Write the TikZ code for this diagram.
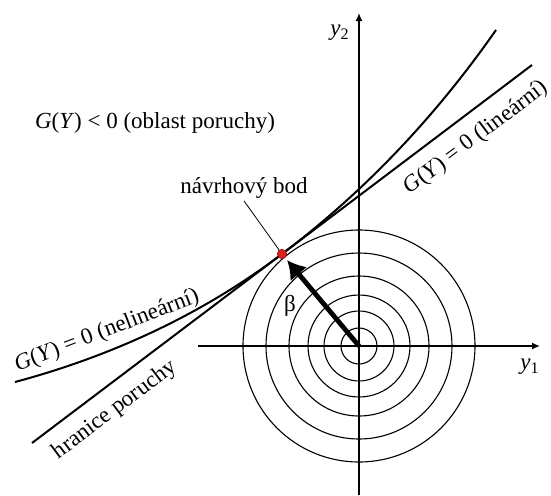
\documentclass[tikz,border=0pt]{standalone}
\usepackage{fontspec}
\setmainfont{Liberation Serif}
\usetikzlibrary{arrows.meta}
\definecolor{bodred}{RGB}{222,32,32}
\tikzset{
  axis/.style    ={line width=0.7pt,-{Latex[length=4pt,width=3.5pt]}},
  ring/.style    ={line width=0.55pt},
  mez/.style     ={line width=1pt},
  pointer/.style ={line width=0.4pt},
  betaarr/.style ={line width=2.4pt,-{Latex[length=9pt,width=11pt]},shorten >=1.5pt},
  bodnode/.style ={circle,draw=bodred!70!black,line width=0.3pt,fill=bodred,
                   minimum size=4.6pt,inner sep=0pt},
  lbl/.style     ={inner sep=1pt,font=\fontsize{11.5}{13}\selectfont},
}

\begin{document}
\begin{tikzpicture}[x=0.5pt,y=0.5pt]
\useasboundingbox (-359,-149) rectangle (192,346);

% --- concentric circles ------------------------------------------------------
\coordinate (O) at (0,0);
\foreach \r in {18,35,51,70,93,116}
  \draw[ring] (O) circle (\r);

% --- axes --------------------------------------------------------------------
\coordinate (x0) at (-161,0);
\coordinate (x1) at (181,0);
\coordinate (v0) at (0,-149);
\coordinate (v1) at (0,333);
\draw[axis] (x0) -- (x1);
\draw[axis] (v0) -- (v1);
\node[lbl] (ya) at (171,-21) {\textit{y}\textsubscript{1}};
\node[lbl] (yb) at (-19,313) {\textit{y}\textsubscript{2}};

% --- limit states ------------------------------------------------------------
\coordinate (l0) at (-327,-97);
\coordinate (l1) at (173,281);
\coordinate (c0) at (-344,-36);
\coordinate (c1) at (137,316);
\node[bodnode] (bod) at (-77,92) {};
\draw[mez] (l0) -- (l1);
\draw[mez] (c0) .. controls (-243.1,-8.9) and (-154.1,33.7) .. (bod.center)
                .. controls (4.4,153.5) and (75.7,228.2) .. (c1);

% --- labels ------------------------------------------------------------------
\node[lbl] (obl) at (-204,223) {\textit{G}(\textit{Y}) < 0 (oblast poruchy)};
\node[lbl,rotate=37] (lin) at (117,208) {\textit{G}(\textit{Y}) = 0 (lineární)};
\node[lbl,rotate=21] (nel) at (-252,15) {\textit{G}(\textit{Y}) = 0 (nelineární)};
\node[lbl,rotate=37] (hra) at (-244,-64) {hranice poruchy};
\node[lbl] (navrh) at (-115,158) {návrhový bod};
\node[lbl] (beta) at (-69,40) {β};
\draw[pointer] (navrh.south) -- (bod);

% --- reliability index -------------------------------------------------------
\draw[betaarr] (O) -- (bod);
\node[bodnode] at (bod) {};

\end{tikzpicture}
\end{document}
